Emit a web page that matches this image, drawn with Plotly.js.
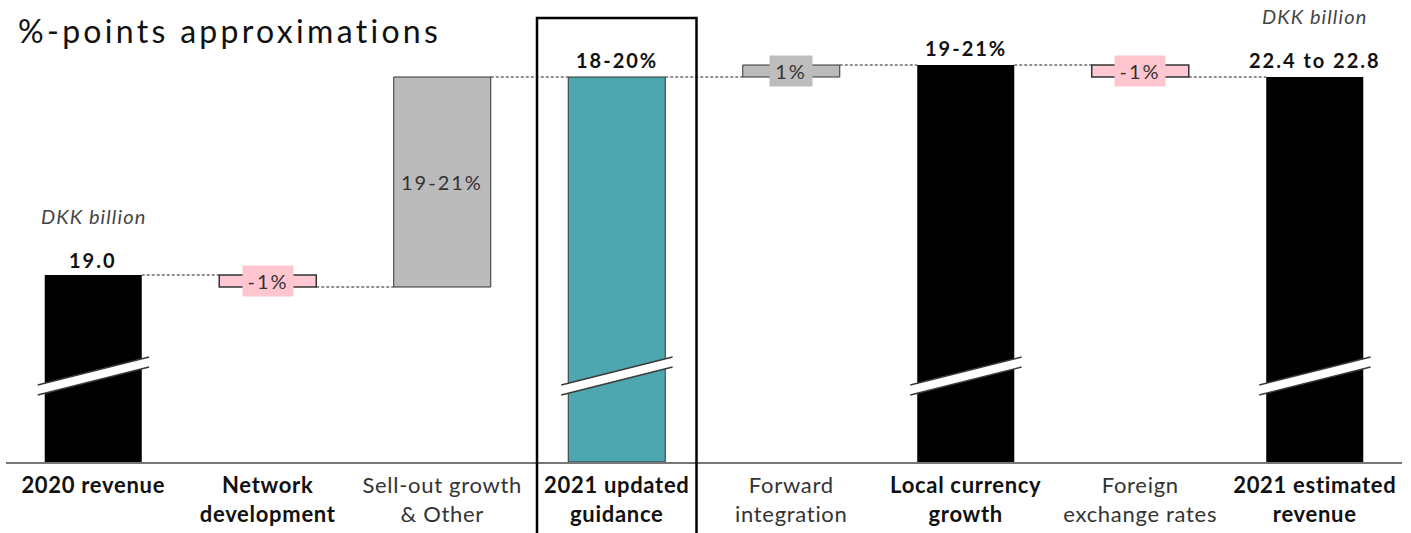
<!DOCTYPE html>
<html>
<head>
<meta charset="utf-8">
<script src="https://cdn.plot.ly/plotly-3.0.1.min.js"></script>
<style>
html, body { margin: 0; padding: 0; background: #ffffff; }
#chart { width: 1411px; height: 533px; }
#chart .gtitle { letter-spacing: 3.3px; }
#chart .xtick text { letter-spacing: 0.7px; }
#chart .annotation-text { letter-spacing: 2px; }
#chart .annotation[data-index="8"] .annotation-text,
#chart .annotation[data-index="9"] .annotation-text { letter-spacing: 1.1px; }
</style>
</head>
<body>
<div id="chart"></div>
<script>
// ---- data (visual bar heights; the axis is broken, so units are drawing units) ----
const categories = ['2020 revenue', 'Network development', 'Sell-out growth & Other', '2021 updated guidance',
                    'Forward integration', 'Local currency growth', 'Foreign exchange rates', '2021 estimated revenue'];
const tickLabels = ['<b>2020 revenue</b>', '<b>Network<br>development</b>', '<span style="color:#333">Sell-out growth<br>&amp; Other</span>',
                    '<b>2021 updated<br>guidance</b>', '<span style="color:#333">Forward<br>integration</span>',
                    '<b>Local currency<br>growth</b>', '<span style="color:#333">Foreign<br>exchange rates</span>',
                    '<b>2021 estimated<br>revenue</b>'];
const measures = ['total', 'relative', 'relative', 'total', 'relative', 'total', 'relative', 'total'];
const visualValues = [187, -12, 210, 385, 12, 397, -12, 385];
const barLabels = ['19.0', '-1%', '19-21%', '18-20%', '1%', '19-21%', '-1%', '22.4 to 22.8'];
const barKinds = ['black', 'pink', 'gray', 'teal', 'gray', 'black', 'pink', 'black'];
const unitNotes = ['DKK billion', 'DKK billion'];
const unitNoteCats = [0, 7];
const titleText = '%-points approximations';
const highlightedCat = 3;

// ---- styles ----
const FONT = 'Lato, "Open Sans", sans-serif';
const fillOf = {black: '#000000', pink: '#FFC8D2', gray: '#BBBBBB', teal: '#4DA6B0'};
const lineOf = {black: '#000000', pink: '#333333', gray: '#333333', teal: '#333333'};
const lineW = {black: 0, pink: 1.5, gray: 1, teal: 1};
const BAR_W = 0.556;

// ---- waterfall geometry from the data ----
const xs = categories.map((_, i) => i);
const bases = [], heights = [], ends = [];
let level = 0;
measures.forEach((m, i) => {
  if (m === 'total') { bases.push(0); heights.push(visualValues[i]); level = visualValues[i]; }
  else { bases.push(level); heights.push(visualValues[i]); level += visualValues[i]; }
  ends.push(level);
});

const traces = [];
traces.push({
  type: 'bar', x: xs, y: heights, base: bases, width: BAR_W,
  marker: {
    color: barKinds.map(k => fillOf[k]),
    line: {color: barKinds.map(k => lineOf[k]), width: barKinds.map(k => lineW[k])}
  },
  hoverinfo: 'skip', showlegend: false
});

// dashed connectors
const cx = [], cy = [];
for (let i = 0; i < xs.length - 1; i++) {
  cx.push(xs[i] + BAR_W / 2, xs[i + 1] - BAR_W / 2, null);
  cy.push(ends[i], ends[i], null);
}
traces.push({type: 'scatter', mode: 'lines', x: cx, y: cy,
  line: {color: '#222', width: 1, dash: '3px,2px'}, hoverinfo: 'skip', showlegend: false});

// ---- annotations ----
const annotations = [];
measures.forEach((m, i) => {
  if (m === 'total') {
    annotations.push({x: xs[i], y: ends[i], xref: 'x', yref: 'y', yanchor: 'bottom', yshift: i === 0 ? 1 : 3,
      text: '<b>' + barLabels[i] + '</b>', showarrow: false,
      font: {family: FONT, size: 20, color: '#111'}});
  } else {
    const mid = bases[i] + heights[i] / 2;
    const k = barKinds[i];
    const small = Math.abs(heights[i]) < 40;
    annotations.push({x: xs[i], y: mid, xref: 'x', yref: 'y', yanchor: 'middle', text: barLabels[i],
      showarrow: false, font: {family: FONT, size: 20, color: '#333'},
      bgcolor: small ? (k === 'pink' ? '#FFC6D0' : '#BDBDBD') : 'rgba(0,0,0,0)',
      width: small ? (k === 'pink' ? 48 : 40) : null, height: small ? 28 : null});
  }
});
unitNotes.forEach((t, j) => {
  const i = unitNoteCats[j];
  annotations.push({x: xs[i], y: ends[i], xref: 'x', yref: 'y', yanchor: 'bottom',
    yshift: j === 0 ? 45 : 47, text: '<i>' + t + '</i>', showarrow: false,
    font: {family: FONT, size: 20, color: '#444'}});
});

// ---- shapes: axis-break marks and the highlight box ----
const shapes = [];
measures.forEach((m, i) => {
  if (m !== 'total') return;
  const x0 = xs[i] - 0.318, x1 = xs[i] + 0.32;
  const lt = 77, rt = 105, lb = 67, rb = 95;
  shapes.push({type: 'path', xref: 'x', yref: 'y', layer: 'above',
    path: `M${x0},${lt} L${x1},${rt} L${x1},${rb} L${x0},${lb} Z`,
    fillcolor: '#ffffff', line: {width: 0}});
  shapes.push({type: 'line', xref: 'x', yref: 'y', layer: 'above', x0: x0, y0: lt, x1: x1, y1: rt,
    line: {color: '#3a3a3a', width: 1.5}});
  shapes.push({type: 'line', xref: 'x', yref: 'y', layer: 'above', x0: x0, y0: lb, x1: x1, y1: rb,
    line: {color: '#3a3a3a', width: 1.5}});
});
const nCat = xs.length;
shapes.push({type: 'rect', xref: 'paper', yref: 'paper', layer: 'above',
  x0: (highlightedCat + 0.5 - 0.457) / nCat, x1: (highlightedCat + 0.5 + 0.457) / nCat,
  y0: -0.17, y1: 0.961, line: {color: '#000', width: 2.5}, fillcolor: 'rgba(0,0,0,0)'});

const layout = {
  width: 1411, height: 533,
  margin: {l: 6, r: 9, t: 0, b: 71},
  paper_bgcolor: '#ffffff', plot_bgcolor: '#ffffff',
  title: {text: titleText, x: 18 / 1411, xref: 'container', xanchor: 'left',
          y: 1 - 32 / 533, yref: 'container', yanchor: 'middle',
          font: {family: FONT, size: 32, color: '#111'}},
  xaxis: {range: [-0.5, nCat - 0.5], tickvals: xs, ticktext: tickLabels, showgrid: false, zeroline: false,
          showline: true, linecolor: '#777', linewidth: 1.5, ticks: '', fixedrange: true,
          ticklabelstandoff: 3,
          tickfont: {family: FONT, size: 22, color: '#111'}},
  yaxis: {range: [0, 462], visible: false, showgrid: false, zeroline: false, fixedrange: true},
  annotations: annotations, shapes: shapes, showlegend: false, bargap: 0
};

Plotly.newPlot('chart', traces, layout, {displayModeBar: false, staticPlot: true});
</script>
</body>
</html>
